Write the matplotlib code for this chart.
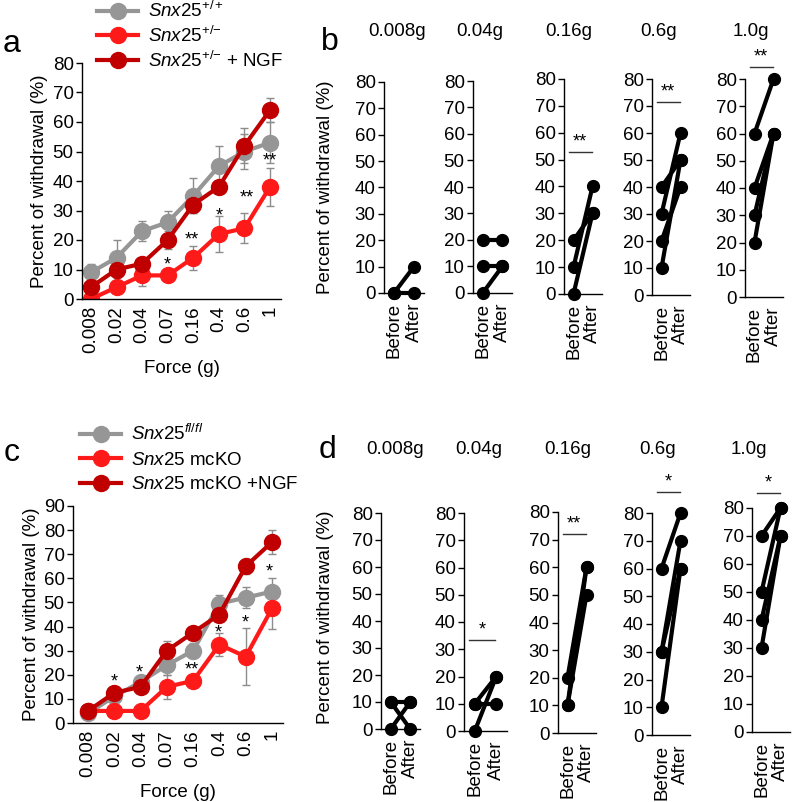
import matplotlib
matplotlib.use("Agg")
import matplotlib.pyplot as plt

plt.rcParams['font.family'] = ['Liberation Sans', 'DejaVu Sans']
plt.rcParams['mathtext.fontset'] = 'custom'
plt.rcParams['mathtext.rm'] = 'Liberation Sans'
plt.rcParams['mathtext.it'] = 'Liberation Sans:italic'

# ---- data ----
force_labels = ['0.008', '0.02', '0.04', '0.07', '0.16', '0.4', '0.6', '1']

a_wt = [9, 14, 23, 26, 35, 45, 50, 53]
a_wt_err = [3, 6, 3.5, 4, 6, 7, 6, 7]
a_het = [0, 4, 8, 8, 14, 22, 24, 38]
a_het_err = [0, 1, 3.5, 0, 4, 6, 5, 6.5]
a_ngf = [4, 10, 12, 20, 32, 38, 52, 64]
a_ngf_err = [2, 3, 2, 3, 3, 0, 6, 4]
a_stars = ['*', '**', '*', '**', '**']
a_star_x = [3, 3.95, 5, 6.1, 7]
a_star_y = [13.2, 21.7, 29.8, 35.9, 48.5]

c_ff = [4, 11, 17, 24, 30, 49.5, 52, 54.5]
c_ff_err = [1.5, 2, 2, 4, 3, 3.5, 4.5, 5.5]
c_ko = [5, 5, 5, 15, 17.5, 32.5, 27.5, 47.5]
c_ko_err = [0, 0, 0, 5, 0, 4.75, 11.7, 8.5]
c_ngf = [5, 12.5, 15, 30, 37.5, 45, 65, 75]
c_ngf_err = [0, 0, 0, 4, 0, 0, 3, 5]
c_stars = ['*', '*', '**', '*', '*', '*']
c_star_x = [1, 1.95, 3.95, 4.95, 5.97, 6.9]
c_star_y = [19, 23, 24, 39.4, 43.5, 64.7]

small_titles = ['0.008g', '0.04g', '0.16g', '0.6g', '1.0g']
b_before = [[0, 0], [20, 10, 0], [20, 10, 0], [40, 30, 20, 10], [60, 40, 30, 20]]
b_after = [[10, 0], [20, 10, 10], [30, 40, 30], [50, 60, 40, 50], [80, 60, 60, 60]]
b_sig = [None, None, ('**', 53), ('**', 71.6), ('**', 84.5)]
d_before = [[10, 10, 0], [10, 10, 0], [20, 10, 10], [60, 30, 10, 30], [70, 50, 40, 30]]
d_after = [[10, 0, 10], [10, 20, 20], [60, 50, 60], [80, 70, 60, 60], [80, 80, 70, 70]]
d_sig = [None, ('*', 33.4), ('**', 72), ('*', 87.6), ('*', 85.4)]

GRAY = '#969696'
RED = '#ff1a1a'
DRED = '#c00000'

W, H = 792, 802
fig = plt.figure(figsize=(W / 100, H / 100), dpi=100)


def box(l, r, t, b):
    return [l / W, 1 - b / H, (r - l) / W, (b - t) / H]


def style(ax):
    for s in ['top', 'right']:
        ax.spines[s].set_visible(False)
    for s in ['left', 'bottom']:
        ax.spines[s].set_linewidth(1.0)
    ax.tick_params(axis='y', length=4, width=1, pad=2, labelsize=13.5)
    ax.tick_params(axis='x', length=0, pad=5, labelsize=13.5)


def big_panel(rect, xlim, ylim, yticks, series, stars, sx, sy, legend_labels,
              leg_anchor, leg_space):
    ax = fig.add_axes(box(*rect))
    x = list(range(len(force_labels)))
    handles = []
    for vals, errs, col in series:
        ax.errorbar(x, vals, yerr=errs, fmt='none', ecolor='#8c8c8c',
                    elinewidth=1, capsize=3, capthick=1, zorder=1)
        h, = ax.plot(x, vals, '-o', color=col, lw=3, ms=11.5, zorder=2)
        handles.append(h)
    for s, xx, yy in zip(stars, sx, sy):
        ax.annotate(s, (xx, yy), xytext=(0, -7), textcoords='offset points',
                    ha='center', va='baseline', fontsize=13)
    ax.set_xlim(*xlim)
    ax.set_ylim(*ylim)
    ax.set_yticks(yticks)
    ax.set_xticks(x)
    ax.set_xticklabels(force_labels, rotation=90, va='top')
    ax.set_xlabel('Force (g)', fontsize=13.5, labelpad=5)
    ax.set_ylabel('Percent of withdrawal (%)', fontsize=13.5, labelpad=3)
    style(ax)
    ax.legend(handles, legend_labels, loc='upper left', bbox_to_anchor=leg_anchor,
              bbox_transform=fig.transFigure, frameon=False, fontsize=13.5,
              handlelength=2.2, handletextpad=0.5, labelspacing=leg_space,
              borderaxespad=0, borderpad=0)
    return ax


big_panel((82, 281, 63, 299), (-0.35, 7.43), (0, 80), range(0, 81, 10),
          [(a_wt, a_wt_err, GRAY), (a_het, a_het_err, RED), (a_ngf, a_ngf_err, DRED)],
          a_stars, a_star_x, a_star_y,
          [r'$\mathit{Snx25}^{\mathit{+/+}}$', r'$\mathit{Snx25}^{\mathit{+/}\mathit{-}}$',
           r'$\mathit{Snx25}^{\mathit{+/}\mathit{-}}$ + NGF'],
          (97 / W, 1 - 1 / H), 0.25)

big_panel((73, 283, 506, 723), (-0.57, 7.42), (0, 90), range(0, 91, 10),
          [(c_ff, c_ff_err, GRAY), (c_ko, c_ko_err, RED), (c_ngf, c_ngf_err, DRED)],
          c_stars, c_star_x, c_star_y,
          [r'$\mathit{Snx25}^{\mathit{fl/fl}}$', r'$\mathit{Snx25}$ mcKO',
           r'$\mathit{Snx25}$ mcKO +NGF'],
          (80 / W, 1 - 424 / H), 0.4)


def small_panels(rects, befores, afters, sigs, title_x, title_y, ylab_y):
    for i, rect in enumerate(rects):
        ax = fig.add_axes(box(*rect))
        for b, a in zip(befores[i], afters[i]):
            ax.plot([0, 1], [b, a], '-o', color='black', lw=3, ms=8.5,
                    clip_on=False, zorder=3)
        if sigs[i] is not None:
            txt, yy = sigs[i]
            ax.plot([-0.25, 0.95], [yy, yy], color='#333333', lw=1, clip_on=False)
            ax.annotate(txt, (0.35, yy), xytext=(0, 1), textcoords='offset points',
                        ha='center', va='bottom', fontsize=13, annotation_clip=False)
        ax.set_xlim(-0.5, 1.5)
        ax.set_ylim(0, 80)
        ax.set_yticks(range(0, 81, 10))
        ax.set_xticks([0, 1])
        ax.set_xticklabels(['Before', 'After'], rotation=90, va='top')
        style(ax)
        ax.tick_params(axis='x', pad=7)
        fig.text(title_x[i] / W, 1 - title_y / H, small_titles[i],
                 ha='center', va='center', fontsize=13.5)
    fig.text(325 / W, 1 - ylab_y / H, 'Percent of withdrawal (%)', rotation=90,
             ha='center', va='center', fontsize=13.5)


small_panels([(384, 424, 82, 293), (473, 512, 81, 293), (564, 602, 79, 294),
              (652, 690, 79, 295), (745, 783, 79, 297)],
             b_before, b_after, b_sig, [397, 480, 569, 659, 751], 32, 187)
small_panels([(381, 420, 513, 729), (464, 507, 513, 731), (558, 596, 512, 733),
              (652, 690, 513, 735), (752, 790, 508, 732)],
             d_before, d_after, d_sig, [395, 479, 568, 658, 749], 450, 617)

for lab, x, y in [('a', 12, 44), ('b', 330, 42), ('c', 12, 453), ('d', 328, 450)]:
    fig.text(x / W, 1 - y / H, lab, ha='center', va='center', fontsize=23)

fig.savefig('out.png', dpi=100)
